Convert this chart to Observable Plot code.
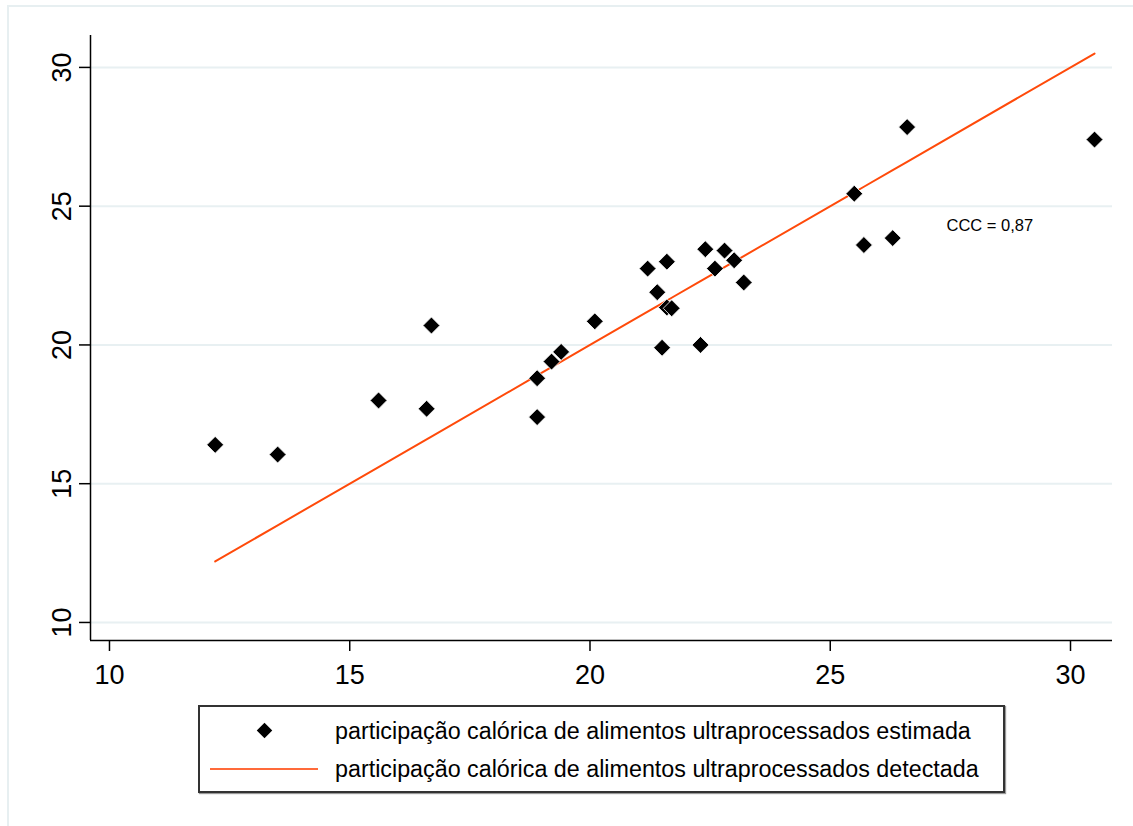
<!DOCTYPE html>
<html>
<head>
<meta charset="utf-8">
<script src="https://cdn.jsdelivr.net/npm/d3@7"></script>
<script src="https://cdn.jsdelivr.net/npm/@observablehq/plot@0.6"></script>
<style>
  html, body { margin: 0; padding: 0; background: #fff; overflow: hidden; }
  body { width: 1133px; height: 826px; position: relative; font-family: "Liberation Sans", Arial, sans-serif; }
  #frame { position: absolute; left: 7px; top: 5px; width: 1140px; height: 840px;
           border-left: 2px solid #e7eff1; border-top: 2px solid #e7eff1; }
  #chart { position: absolute; left: 0; top: 0; }
  #legend { position: absolute; left: 198px; top: 705px; width: 803px; height: 84px;
            border: 2px solid #333; box-shadow: 1px 1px 1px #999; background: #fff; }
  .row { position: absolute; left: 0; height: 30px; width: 100%; }
  .lab { position: absolute; left: 135px; top: 0; font-size: 23.3px; line-height: 30px; color: #000; white-space: nowrap; }
  .diam { position: absolute; left: 59px; top: 9px; width: 11px; height: 11px; background: #000; transform: rotate(45deg); }
  .ln { position: absolute; left: 10px; top: 14px; width: 108px; height: 2px; background: #ff6a3a; }
</style>
</head>
<body>
<div id="frame"></div>
<div id="chart"></div>
<div id="legend">
  <div class="row" style="top:9px"><div class="diam"></div><div class="lab" id="lab1"></div></div>
  <div class="row" style="top:47px"><div class="ln"></div><div class="lab" id="lab2"></div></div>
</div>
<script>
// Detected (x) and estimated (y) caloric share of ultra-processed foods
const detectada = [12.2, 13.5, 15.6, 16.6, 16.7, 18.9, 18.9, 19.2, 19.4, 20.1, 21.2, 21.6, 21.4, 21.6, 21.7, 21.5, 22.3, 22.4, 22.6, 22.8, 23.0, 23.2, 25.5, 25.7, 26.3, 26.6, 30.5];
const estimada  = [16.4, 16.05, 18.0, 17.7, 20.7, 18.8, 17.4, 19.4, 19.75, 20.85, 22.75, 23.0, 21.9, 21.35, 21.32, 19.9, 20.0, 23.45, 22.75, 23.4, 23.05, 22.25, 25.45, 23.6, 23.85, 27.85, 27.4];
const xTicks = [10, 15, 20, 25, 30];
const yTicks = [10, 15, 20, 25, 30];
const xDomain = [9.605, 30.874];
const yDomain = [9.35, 31.15];
const legendLabels = [
  "participação calórica de alimentos ultraprocessados estimada",
  "participação calórica de alimentos ultraprocessados detectada"
];
const annotation = {x: 27.42, y: 24.31, label: "CCC = 0,87"};

const points = detectada.map((d, i) => ({x: d, y: estimada[i]}));
const lineData = [...detectada].sort((a, b) => a - b);

const chart = Plot.plot({
  width: 1133,
  height: 700,
  marginTop: 35,
  marginBottom: 60,
  marginLeft: 90,
  marginRight: 21,
  x: {domain: xDomain},
  y: {domain: yDomain},
  style: {fontFamily: "'Liberation Sans', Arial, sans-serif", color: "#000", background: "transparent"},
  marks: [
    Plot.ruleY(yTicks, {stroke: "#e8f0f2", strokeWidth: 2}),
    Plot.ruleX([xDomain[0]], {stroke: "#000", strokeWidth: 1.5}),
    Plot.ruleY([yDomain[0]], {stroke: "#000", strokeWidth: 1.5}),
    Plot.axisX({ticks: xTicks, label: null, tickSize: 11, tickPadding: 13, fontSize: 27, strokeWidth: 1.5, tickFormat: d => d}),
    Plot.axisY({ticks: yTicks, label: null, tickSize: 11, tickRotate: -90, tickPadding: 9, fontSize: 27, strokeWidth: 1.5, tickFormat: d => d}),
    Plot.line(lineData, {x: d => d, y: d => d, stroke: "#ff4a0a", strokeWidth: 2}),
    Plot.dot(points, {x: "x", y: "y", symbol: "diamond2", r: 7.6, fill: "#000", stroke: "#fff", strokeWidth: 0.8}),
    Plot.text([annotation], {x: "x", y: "y", text: "label", textAnchor: "start", fontSize: 16.5, fill: "#000"})
  ]
});
document.getElementById("chart").appendChild(chart);
document.getElementById("lab1").textContent = legendLabels[0];
document.getElementById("lab2").textContent = legendLabels[1];
</script>
</body>
</html>
